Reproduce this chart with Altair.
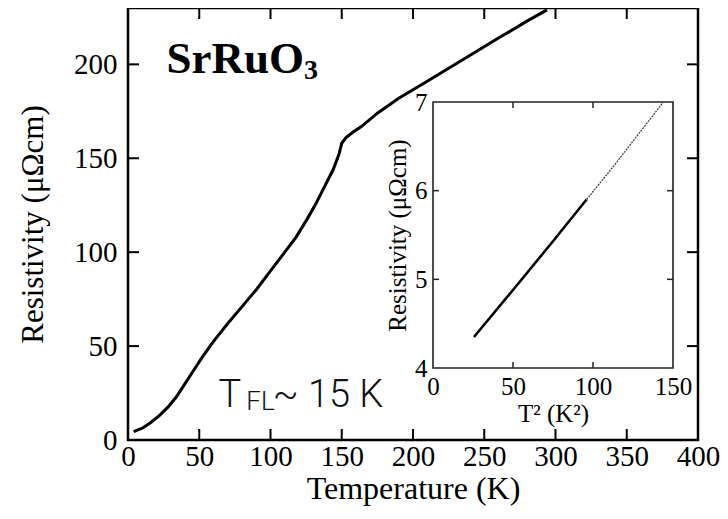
import altair as alt
import pandas as pd

# ---- data ----
temperature = [4, 10, 16, 22, 28, 34, 40, 46, 52, 60, 70, 80, 90, 100, 110, 118, 126,
               132, 138, 144, 148, 150, 153, 158, 164, 175, 190, 210, 234, 260, 280, 294]
resistivity = [4.4, 6.3, 9.3, 13, 17.5, 23, 30, 37, 44, 52.5, 62, 71, 80, 90, 100, 108, 118,
               126, 135, 144, 152, 158, 161, 164, 167, 174, 182, 191, 202, 214, 223, 229]

inset_t2 = [25.6, 50, 75, 96, 113, 144]
inset_rho = [4.35, 4.88, 5.43, 5.90, 6.28, 7.0]
inset_dotted_from = 96

main_x_ticks = [0, 50, 100, 150, 200, 250, 300, 350, 400]
main_y_ticks = [0, 50, 100, 150, 200]
inset_x_ticks = [0, 50, 100, 150]
inset_y_ticks = [4, 5, 6, 7]

main_x_domain = [0, 400]
main_y_domain = [0, 230]
inset_x_domain = [0, 150]
inset_y_domain = [4, 7]

# ---- layout / style ----
W, H = 570, 432
SERIF = "Liberation Serif"
SANS = "Roboto"
INSET_X_RANGE = [305, 545]
INSET_Y_RANGE = [360, 94]


def xs():
    return alt.Scale(domain=main_x_domain, range=[0, W], nice=False, zero=False)


def ys():
    return alt.Scale(domain=main_y_domain, range=[H, 0], nice=False, zero=False)


def ixs():
    return alt.Scale(domain=inset_x_domain, range=INSET_X_RANGE, nice=False, zero=False)


def iys():
    return alt.Scale(domain=inset_y_domain, range=INSET_Y_RANGE, nice=False, zero=False)


one = pd.DataFrame({"a": [0]})
main_df = pd.DataFrame({"T": temperature, "rho": resistivity})

main_line = alt.Chart(main_df).mark_line(color="black", strokeWidth=3).encode(
    x=alt.X("T:Q", scale=xs(), axis=alt.Axis(
        orient="bottom", values=main_x_ticks, title="Temperature  (K)", domain=False, ticks=False,
        grid=False, labelFlush=False, labelFont=SERIF, labelFontSize=29, labelPadding=2,
        labelColor="black", titleFont=SERIF, titleFontSize=32, titleFontWeight="normal",
        titleColor="black", titlePadding=2)),
    y=alt.Y("rho:Q", scale=ys(), axis=alt.Axis(
        orient="left", values=main_y_ticks, title="Resistivity (μΩcm)", domain=False, ticks=False,
        grid=False, labelFlush=False, labelFont=SERIF, labelFontSize=29, labelPadding=11,
        labelColor="black", titleFont=SERIF, titleFontSize=31, titleFontWeight="normal",
        titleColor="black", titlePadding=24)),
)

mx_df = pd.DataFrame({"v": main_x_ticks[1:-1]})
my_df = pd.DataFrame({"v": main_y_ticks[1:]})
TL = 11
bottom_ticks = alt.Chart(mx_df).mark_rule(color="black", strokeWidth=2, y2Offset=-TL).encode(
    x=alt.X("v:Q", scale=xs(), axis=None),
    y=alt.YDatum(main_y_domain[0], scale=ys(), axis=None), y2=alt.datum(main_y_domain[0]))
top_ticks = alt.Chart(mx_df).mark_rule(color="black", strokeWidth=2, y2Offset=TL).encode(
    x=alt.X("v:Q", scale=xs(), axis=None),
    y=alt.YDatum(main_y_domain[1], scale=ys(), axis=None), y2=alt.datum(main_y_domain[1]))
left_ticks = alt.Chart(my_df).mark_rule(color="black", strokeWidth=2, x2Offset=TL).encode(
    y=alt.Y("v:Q", scale=ys(), axis=None),
    x=alt.XDatum(main_x_domain[0], scale=xs(), axis=None), x2=alt.datum(main_x_domain[0]))
right_ticks = alt.Chart(my_df).mark_rule(color="black", strokeWidth=2, x2Offset=-TL).encode(
    y=alt.Y("v:Q", scale=ys(), axis=None),
    x=alt.XDatum(main_x_domain[1], scale=xs(), axis=None), x2=alt.datum(main_x_domain[1]))


def label(text, tx, ry, font, size, weight, color="black"):
    return alt.Chart(one).mark_text(
        text=text, font=font, fontWeight=weight, fontSize=size, align="left",
        baseline="alphabetic", color=color).encode(
        x=alt.XDatum(tx, scale=xs(), axis=None), y=alt.YDatum(ry, scale=ys(), axis=None))


sr_text = label("SrRuO", 27.0, 195.5, SERIF, 45, "bold")
sr_sub = label("3", 123.5, 192.0, SERIF, 28, "bold")
tfl_T = label("T", 63.5, 17.6, SANS, 38, 300, "#111")
tfl_sub = label("FL", 83.0, 16.0, SANS, 26, 300, "#111")
tfl_rest = label("~ 15 K", 101.5, 17.6, SANS, 38, 300, "#111")

# ---- inset ----
inset_df = pd.DataFrame({"t2": inset_t2, "rho": inset_rho})
solid_df = inset_df[inset_df["t2"] <= inset_dotted_from]
dotted_df = inset_df[inset_df["t2"] >= inset_dotted_from]

inset_frame = alt.Chart(one).mark_rect(fillOpacity=0, stroke="#222", strokeWidth=1.6).encode(
    x=alt.XDatum(inset_x_domain[0], scale=ixs(), axis=alt.Axis(
        orient="bottom", offset=-(H - INSET_Y_RANGE[0]), values=inset_x_ticks, title="T² (K²)",
        domain=False, ticks=False, grid=False, labelFlush=False,
        labelFont=SERIF, labelFontSize=25, labelPadding=6, labelColor="black",
        titleFont=SERIF, titleFontSize=25, titleFontWeight="normal", titleColor="black",
        titlePadding=2)),
    x2=alt.datum(inset_x_domain[1]),
    y=alt.YDatum(inset_y_domain[0], scale=iys(), axis=alt.Axis(
        orient="left", offset=-INSET_X_RANGE[0], values=inset_y_ticks, title="Resistivity (μΩcm)",
        domain=False, ticks=False, grid=False, labelFlush=False,
        labelFont=SERIF, labelFontSize=25, labelPadding=6, labelColor="black",
        titleFont=SERIF, titleFontSize=25, titleFontWeight="normal", titleColor="black",
        titlePadding=4)),
    y2=alt.datum(inset_y_domain[1]),
)

inset_solid = alt.Chart(solid_df).mark_line(color="black", strokeWidth=2.6).encode(
    x=alt.X("t2:Q", scale=ixs(), axis=None), y=alt.Y("rho:Q", scale=iys(), axis=None))
inset_dotted = alt.Chart(dotted_df).mark_line(color="#444", strokeWidth=1.3, strokeDash=[2, 1]).encode(
    x=alt.X("t2:Q", scale=ixs(), axis=None), y=alt.Y("rho:Q", scale=iys(), axis=None))

ix_df = pd.DataFrame({"v": inset_x_ticks[1:-1]})
iy_df = pd.DataFrame({"v": inset_y_ticks[1:-1]})
ITL = 6
i_bottom = alt.Chart(ix_df).mark_rule(color="#222", strokeWidth=1.5, y2Offset=-ITL).encode(
    x=alt.X("v:Q", scale=ixs(), axis=None),
    y=alt.YDatum(inset_y_domain[0], scale=iys(), axis=None), y2=alt.datum(inset_y_domain[0]))
i_top = alt.Chart(ix_df).mark_rule(color="#222", strokeWidth=1.5, y2Offset=ITL).encode(
    x=alt.X("v:Q", scale=ixs(), axis=None),
    y=alt.YDatum(inset_y_domain[1], scale=iys(), axis=None), y2=alt.datum(inset_y_domain[1]))
i_left = alt.Chart(iy_df).mark_rule(color="#222", strokeWidth=1.5, x2Offset=ITL).encode(
    y=alt.Y("v:Q", scale=iys(), axis=None),
    x=alt.XDatum(inset_x_domain[0], scale=ixs(), axis=None), x2=alt.datum(inset_x_domain[0]))
i_right = alt.Chart(iy_df).mark_rule(color="#222", strokeWidth=1.5, x2Offset=-ITL).encode(
    y=alt.Y("v:Q", scale=iys(), axis=None),
    x=alt.XDatum(inset_x_domain[1], scale=ixs(), axis=None), x2=alt.datum(inset_x_domain[1]))

chart = alt.layer(
    main_line, bottom_ticks, top_ticks, left_ticks, right_ticks,
    sr_text, sr_sub, tfl_T, tfl_sub, tfl_rest,
    inset_frame, inset_solid, inset_dotted, i_bottom, i_top, i_left, i_right,
).resolve_scale(
    x="independent", y="independent"
).properties(
    width=W, height=H,
    padding={"left": 120, "top": 0, "right": 22, "bottom": 71},
    autosize=alt.AutoSizeParams(type="none"),
    background="white",
).configure_view(stroke="black", strokeWidth=2.5)

chart.save("out.html", embed_options={"renderer": "svg", "actions": False})
